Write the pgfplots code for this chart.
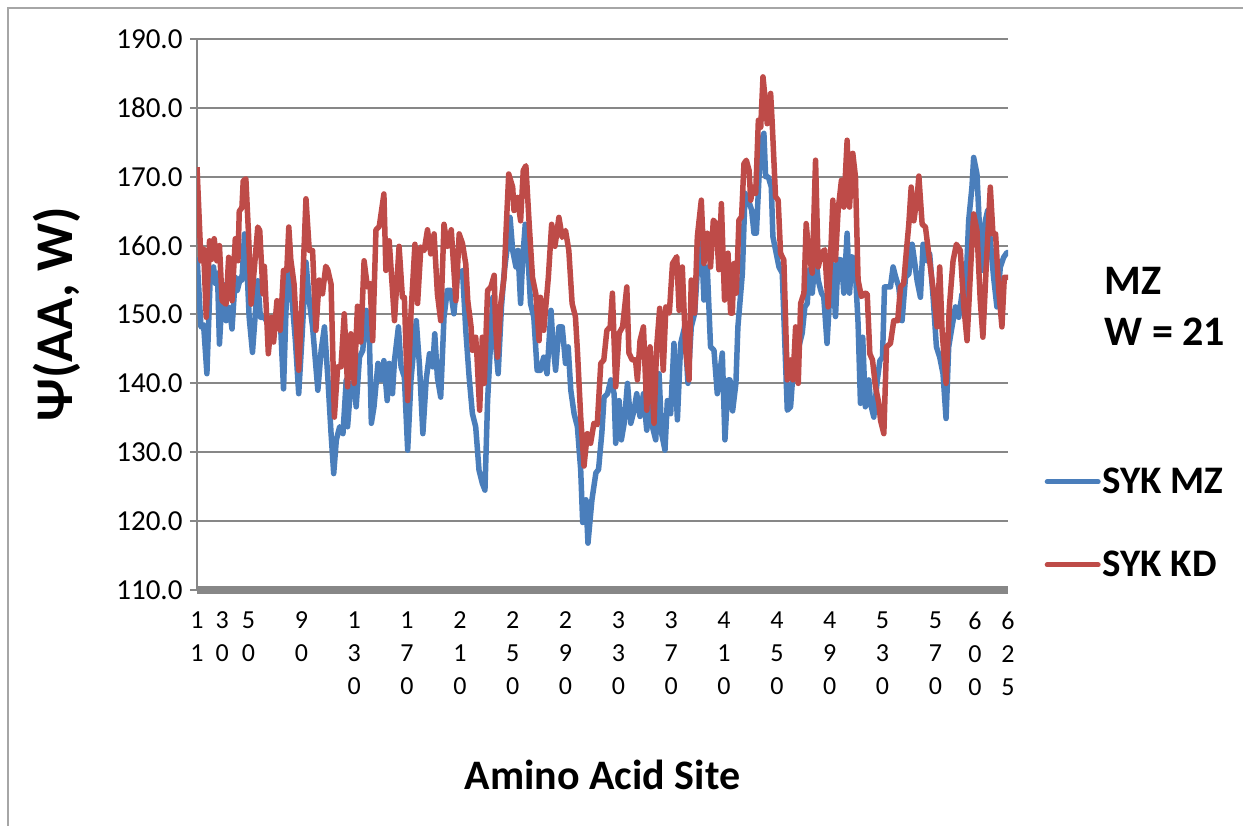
\documentclass[border=0pt]{standalone}
\usepackage{pgfplots}
\pgfplotsset{compat=1.18}
\usepackage{fontspec}
\setmainfont{Carlito}
\definecolor{mzblue}{HTML}{4A7EBB}
\definecolor{kdred}{HTML}{BE4B48}
\definecolor{gridgray}{HTML}{878787}
\begin{document}
\begin{tikzpicture}
\path[use as bounding box] (0,0) rectangle (1243pt,826pt);
\draw[gray!70, line width=1.2pt] (8pt,-20pt) -- (8pt,818pt) -- (1270pt,818pt);
\begin{axis}[
  at={(197pt,236pt)}, anchor=south west,
  scale only axis, width=811pt, height=551pt,
  xmin=11, xmax=625, ymin=110, ymax=190,
  axis x line*=bottom, axis y line*=left,
  x axis line style={-, line width=8pt, draw=gridgray},
  y axis line style={-, line width=2pt, draw=gridgray},
  ytick={110,120,...,190},
  xtick={11,30,50,90,130,170,210,250,290,330,370,410,450,490,530,570,600,625},
  xticklabels={{1\\1},{3\\0},{5\\0},{9\\0},{1\\3\\0},{1\\7\\0},{2\\1\\0},{2\\5\\0},{2\\9\\0},{3\\3\\0},{3\\7\\0},{4\\1\\0},{4\\5\\0},{4\\9\\0},{5\\3\\0},{5\\7\\0},{6\\0\\0},{6\\2\\5}},
  xtick style={draw=none},
  ytick style={draw=gridgray, line width=2pt},
  tick align=outside, major tick length=7pt,
  ymajorgrids, grid style={gridgray, line width=2pt},
  /pgf/number format/assume math mode=true,
  yticklabel={\pgfmathprintnumber[fixed,fixed zerofill,precision=1]{\tick}},
  yticklabel style={font=\fontsize{29}{34}\selectfont, xshift=-4pt},
  xticklabel style={font=\fontsize{26}{33}\selectfont, align=center, anchor=north, yshift=-11pt},
  every axis y label/.style={at={(axis description cs:-0.1726,0.5)}, rotate=90, anchor=center, font=\fontsize{53}{58}\selectfont\bfseries},
  every axis x label/.style={at={(axis description cs:0.5,-0.336)}, anchor=center, font=\fontsize{42}{48}\selectfont\bfseries},
  ylabel={Ψ(AA, W)},
  xlabel={Amino Acid Site},
  legend style={at={(axis description cs:1.045,0.017)}, anchor=south west, draw=none, fill=none,
    font=\fontsize{39}{44}\selectfont\bfseries, row sep=52pt, inner sep=0pt,
    legend cell align=left},
  legend image code/.code={\draw[#1, line width=5pt, line cap=round] (0pt,0pt) -- (51pt,0pt);},
  every axis plot/.append style={line width=5.5pt, line join=round, mark=none},
]
\addplot[mzblue] coordinates {
(11,158.3)(14,148.2)(16,148.5)(18.5,141.4)(21,155.4)(23.5,156.9)(25,154.5)(26.5,156)(28,145.7)(30.5,154.4)
(33,149.1)(35.5,151)(37.5,147.9)(40,155.4)(41.5,153.5)(44,155.4)(45,155)(47,161.7)(48.5,158.3)(50.5,149.6)
(53,144.5)(55.5,151)(57,154.9)(59,149.6)(62,149.6)(65,148.6)(69,146.7)(71.5,151)(74,149.6)(76.5,139.2)
(79,154.4)(80.5,157.8)(83,152)(85.5,146.2)(88,138.5)(90.5,146.7)(93.5,157.6)(96,152)(98.5,148.2)(102.5,139)
(105,144.8)(107.5,148.2)(110,141)(112.5,132.7)(114.5,126.9)(116.5,131.8)(119,133.7)(121.5,132.7)(124,140.5)(125,133.7)
(127.5,140)(130,140)(131.5,136.6)(134,143.8)(136.5,144.8)(139,150.6)(141.5,146.7)(143,134.2)(145,136.6)(148,142.9)
(150.5,140.5)(152.5,143.3)(155,137.5)(156.5,142.9)(159,138.5)(160.5,143.3)(163.5,148.2)(165.5,142.4)(168,140.9)(170.5,130.3)
(173,140.5)(177,149.1)(179.5,142.4)(182,132.7)(184.5,140.5)(187,144.3)(189.5,142.4)(191,147.2)(193,140.9)(195.5,138)
(198,149.6)(200.5,153.5)(203,153.5)(205.5,150.1)(208,155.4)(210,155.9)(212,156.4)(214.5,147.7)(217,141)(219.5,135.6)
(222,133.7)(224.5,127.4)(227,125.5)(229,124.5)(231,137.5)(233.5,146.7)(235,152.5)(237,145.8)(239,141.4)(241.5,151.1)
(243.5,156)(246,159.9)(248,164.1)(250,159.3)(252.5,156.9)(254,159.3)(256,151.6)(257.5,157.8)(259.5,163.1)(262,156.9)
(263.5,151.6)(266,149.6)(268.5,141.9)(271,141.9)(273.5,143.8)(276,141.4)(279,150.6)(280.5,145.8)(282.5,141.9)(285,148.2)
(287.5,148.2)(290,142.9)(292,145.3)(294,139)(296.5,135.6)(299,133.7)(301.5,127.4)(303,119.8)(305.5,123.1)(307,116.8)
(310,123.1)(313,127)(315,127.5)(317.5,132.8)(319.2,138)(321.8,138.5)(324.3,140.5)(326.8,138.5)(328,131.3)(330.6,137.5)
(332.3,131.8)(334.4,134.2)(336.9,140)(339.4,134.2)(341.9,136.1)(343.9,138.5)(346.4,135.2)(349,138.5)(351.5,133.2)(353.2,141.4)
(355.8,133.7)(358.3,131.8)(360.8,141.4)(362.8,132.7)(365.3,130.3)(367.1,137.5)(369.6,135.6)(372.1,145.8)(374.7,134.7)(377.2,145.8)
(380.2,148.2)(382.7,140)(385.2,148.2)(387.8,150.2)(390.3,157.9)(392.8,161.3)(394.8,152.1)(397.3,156.9)(399.8,145.3)(402.4,144.8)
(404.9,138.5)(408.7,144.4)(410.7,131.8)(413.2,140.5)(414.5,140.5)(416.5,136)(419,140)(420.5,148.2)(423.9,156)(425.9,167.6)
(428.4,166.6)(430.9,165.2)(432.7,161.8)(434.5,161.8)(436.5,170)(438.5,175.3)(440.2,176.3)(441.5,170)(443.5,170)(445.8,168.5)
(447,161.3)(449,159.4)(451.6,156.9)(454.1,156)(457.9,136.1)(460.4,136.6)(462.9,143.4)(465.5,144.4)(469.2,147.3)(471.2,151.1)
(473,151.6)(474.7,156.5)(476.8,153.1)(479.3,158.9)(481.3,155)(483.8,153.1)(485.5,152.6)(488,145.8)(490.1,153.1)(491.9,157.4)
(494.4,149.7)(496.4,158)(498.9,157.9)(500.7,153.1)(503.2,161.8)(505,153.1)(507,158.4)(509,157.9)(511.5,148.7)(513.3,137.1)
(515,146.7)(517,136.6)(519.6,140.5)(521,137)(523.4,135.1)(526,140.4)(528,143.3)(530,143.8)(531.5,154)(534,154)
(536,154)(538,156.9)(540,155.4)(542.3,154)(544.8,149.1)(547.4,155.4)(549.9,155.9)(552.4,160.2)(554.2,157.8)(556.2,154.9)
(558.7,152.5)(560.7,160.2)(563.2,157.8)(565.7,158.8)(568.3,152.5)(570.8,145.3)(573.3,143.8)(575.8,141.4)(578.1,134.9)(580.1,145.3)
(582.6,148.2)(585.2,151.1)(587.7,149.6)(590.2,153)(592.7,152)(595.2,163.6)(597.7,168.5)(599,172.8)(601.5,170.4)(603.5,162.2)
(605.3,156.4)(607.8,163.6)(609.6,165.1)(611.6,160.7)(614.1,155.4)(616.6,151.1)(619.2,156.9)(621.7,158.3)(624.2,159)(625,159)
};
\addlegendentry{SYK MZ}
\addplot[kdred] coordinates {
(11,171.4)(14,157.8)(16,159.5)(18,149.6)(20.5,160.7)(22,158)(24,161)(26,157.8)(28,160)(30,152)
(33,151.5)(35,158.3)(36.5,157.3)(37.5,152)(40,161)(42,157.8)(43,165)(45,165.5)(46,169.4)(48,169.7)
(50,161.7)(52,151.5)(54.5,156.9)(57,162.7)(58.5,162.2)(61,153)(62,157)(65,144.3)(67.5,149.6)(69,146)
(71.5,152)(74,147.7)(76.5,156.4)(79,156.4)(80.5,162.7)(82,158)(84.5,154.4)(88,141.9)(90.5,152)(93.5,166.8)
(96,159.3)(98.5,159.3)(101,147.7)(103.5,155)(106,153)(108.5,157)(110,156.5)(112.5,154.4)(114,142.9)(115,135.1)
(117.5,142.4)(120,142.4)(122.5,150.1)(125,139.5)(127.5,147.2)(130,140)(132.5,151.2)(135,146)(137.5,157.8)(140,154)
(142,154.5)(144,146.2)(146.5,162.3)(149,162.8)(152.5,167.5)(154,156.4)(156.5,160.7)(158.5,155)(160.5,149.1)(164,159.9)
(166.5,152.5)(168,152.5)(170.5,137.5)(173,150.1)(176,160.2)(178,151.6)(180.5,159.8)(183,159.3)(185.5,162.3)(188,158.8)
(190.5,161.7)(193,153)(195.5,149.1)(198,163.1)(200.5,159.9)(203.5,162.3)(207,152)(209.5,161.7)(212,160.3)(214.5,157.3)
(216,152)(218.5,148.2)(219.5,144.8)(222,146.7)(223,143.8)(225,136.1)(227,146.7)(228.5,140)(231,153.5)(233.5,154)
(236,155.7)(237,148.7)(238.5,143.8)(241,151.6)(243.5,155.4)(245,162.2)(247,170.4)(250,168.5)(251,165.1)(253.5,167)
(256,163.6)(258,170.9)(260,171.6)(262.5,163.1)(265,155.4)(267.5,153)(270,146.2)(271,152.5)(273.5,147.7)(277,155.4)
(279.5,163.1)(282,159.9)(285,164.1)(287.5,161.2)(290,162.2)(292.5,159.3)(295,151.6)(297.5,149.7)(299,144.8)(301.5,135.1)
(304,128)(306.5,132.7)(309,131.3)(311.5,134.2)(314,134)(316.7,142.9)(319,143.4)(321.3,147.7)(323.8,148.2)(325.5,153.1)
(328,139.5)(330.6,147.3)(333.2,148.2)(336.4,154)(338,144.4)(340.5,143.4)(343,143.4)(344.4,140.5)(346.4,146.2)(349,148.2)
(351.5,136.1)(354,145.3)(357,134.2)(359,145.3)(361.3,150.9)(364,141.9)(366,151.1)(368.6,150.2)(371,157.4)(374.2,158.4)
(376,150.6)(378.4,156.9)(381,144.8)(383.5,140.5)(385.2,155)(387.8,150.2)(389.8,161.3)(392.8,166.6)(394.8,157.4)(397.3,161.8)
(399.8,156.9)(401.9,163.7)(404,163.2)(406.1,156.5)(408,166.1)(410.4,152.1)(413,158.9)(415,150.2)(416.3,150.2)(417.5,157.4)
(419.3,153.1)(421.3,163.7)(423.3,164.2)(425.1,171.9)(426.9,172.4)(429,170.9)(430.2,166.6)(432,168.5)(434,167.6)(436,178.2)
(437.8,177.2)(439.5,184.5)(441.5,180.6)(442.7,177.7)(445.3,182.1)(446.5,177.7)(449,167.1)(451,166.6)(452.8,158.9)(455.3,157.9)
(457.9,140.5)(460.4,143.4)(462.2,140.5)(464.2,148.2)(466.2,140)(468,151.6)(470.5,153.1)(472.2,163.2)(474.2,158.9)(476.8,156)
(479.3,172.4)(481.3,156.9)(483.8,158.9)(486.3,159.4)(488.8,151.1)(490.6,157.9)(492.4,166.6)(494.4,157.9)(496.4,165.2)(498.9,169.5)
(500.7,165.6)(503.2,175.3)(505,165.6)(507.5,173.4)(509.5,170)(511.5,155)(514,152.6)(516.5,153.1)(518.4,153)(520.4,144.3)
(522.4,143.4)(524.7,139.5)(527.2,137.1)(528.5,134.6)(531,132.7)(533,145.3)(536,145.8)(538.5,149.1)(541.5,149.1)(543.6,154)
(546,154.5)(548.1,159.3)(549.9,163.1)(551.7,168.5)(553.7,163.6)(556.2,167)(557.5,170.1)(560,163.1)(562.5,162.7)(565,158.8)
(568.8,153)(571.3,148.2)(573.3,156.9)(575.1,147.7)(578.1,140)(580.6,151.1)(583.4,157.8)(585.9,160.2)(588.9,159.3)(591.4,151.5)
(594,146.2)(597,157.8)(599,164.6)(601.5,162.2)(604,152)(606,146.7)(608.6,157.3)(611.6,168.5)(613.6,161.7)(615.6,161.7)
(618,153.5)(620.4,148.2)(622.2,155.4)(625,155.4)
};
\addlegendentry{SYK KD}
\end{axis}
\node[anchor=west, align=left, font=\fontsize{42}{51}\selectfont\bfseries] at (1101pt,520pt) {MZ\\W = 21};
\end{tikzpicture}
\end{document}
